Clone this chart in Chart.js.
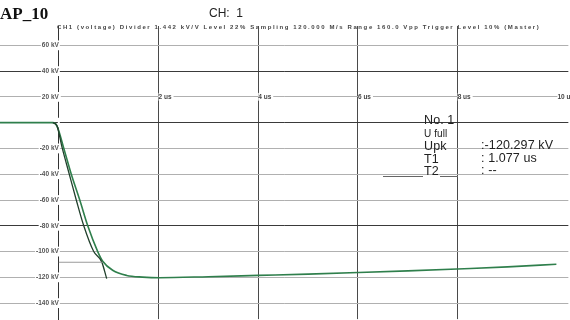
<!DOCTYPE html>
<html>
<head>
<meta charset="utf-8">
<script src="https://cdn.jsdelivr.net/npm/chart.js@4.4.1/dist/chart.umd.min.js"></script>
<style>
    body { margin: 0; background: #fff; }
    #wrap { position: relative; width: 570px; height: 320px; overflow: hidden; }
    #scope { position: absolute; left: 0; top: 0; }
    .txt { position: absolute; white-space: nowrap; font-family: "Liberation Sans", Arial, sans-serif; color: #222; }
    #tag { left: 0; top: 4px; font-family: "Liberation Serif", serif; font-weight: bold; font-size: 17px; color: #111; }
    #ch { left: 209px; top: 6px; font-size: 12px; }
    #hdr { left: 57px; top: 24px; font-size: 6px; font-weight: bold; color: #444; letter-spacing: 1.6px; }
    .res { font-size: 12.5px; letter-spacing: 0.1px; line-height: 12.5px; }
    .rule { position: absolute; height: 0; border-top: 1px solid #666; }
</style>
</head>
<body>
<div id="wrap">
    <!-- canvas a bit taller than the frame: the offset x axis keeps ~12px at the bottom -->
    <canvas id="scope" width="570" height="332"></canvas>
    <div class="txt" id="tag">AP_10</div>
    <div class="txt" id="ch">CH:&nbsp; 1</div>
    <div class="txt" id="hdr">CH1 (voltage) Divider 1.442 kV/V Level 22% Sampling 120.000 M/s Range 160.0 Vpp Trigger Level 10% (Master)</div>
    <div class="txt res" style="left:424px; top:114px;">No. 1<br><span style="font-size:10px">U full</span><br>Upk<br>T1<br>T2</div>
    <div class="txt res" style="left:481px; top:139px;">:-120.297 kV<br>: 1.077 us<br>: --</div>
    <div class="rule" style="left:383px; top:176px; width:40px;"></div>
    <div class="rule" style="left:440px; top:176px; width:18px;"></div>
</div>
<script>
// measured waveform (time in us, voltage in kV)
const waveTime = [-1.18, -0.12, -0.04, 0.1, 0.25, 0.42, 0.58, 0.78, 0.88, 1.08, 1.36, 1.68, 2.02, 3, 4, 5, 6, 7, 8, 9, 9.98];
const waveKV = [0, 0, -2.3, -20, -40, -60, -80, -100, -107.5, -114.5, -118.5, -119.8, -120.3, -119.5, -118.5, -117.5, -116.3, -115, -113.5, -111.9, -109.8];

// front evaluation curve
const fitTime = [-0.12, -0.04, 0.07, 0.21, 0.35, 0.5, 0.7, 0.86, 0.96];
const fitKV = [0, -2.3, -20, -40, -60, -80, -100, -108, -121];

// 90% level marker
const levelTime = [0, 0.88];
const levelKV = [-108.3, -108.3];

const darkGridKV = [40, 0, -80];
const timeTicks = [2, 4, 6, 8, 10];

function toPoints(xs, ys) {
    return xs.map((x, i) => ({ x: x, y: ys[i] }));
}

const ctx = document.getElementById('scope').getContext('2d');

const scopeChart = new Chart(ctx, {
    type: 'scatter',
    data: {
        datasets: [{
            label: 'level',
            data: toPoints(levelTime, levelKV),
            showLine: true,
            borderColor: '#9a9a9a',
            borderWidth: 1,
            pointRadius: 0
        }, {
            label: 'fit',
            data: toPoints(fitTime, fitKV),
            showLine: true,
            borderColor: '#21402c',
            borderWidth: 1.3,
            pointRadius: 0,
            cubicInterpolationMode: 'monotone'
        }, {
            label: 'CH1',
            data: toPoints(waveTime, waveKV),
            showLine: true,
            borderColor: '#2f7f4c',
            borderWidth: 1.6,
            pointRadius: 0,
            cubicInterpolationMode: 'monotone'
        }]
    },
    options: {
        responsive: false,
        animation: false,
        layout: { padding: { top: 26, left: 0, right: 0, bottom: 2 } },
        plugins: {
            legend: { display: false },
            tooltip: { enabled: false }
        },
        scales: {
            x: {
                type: 'linear',
                position: { y: 20 },
                min: -1.18,
                max: 10.22,
                border: { display: false },
                grid: {
                    drawTicks: false,
                    color: function(c) {
                        if (c.tick.value === 10) return 'rgba(0,0,0,0)';
                        return '#4a4a4a';
                    }
                },
                ticks: {
                    stepSize: 2,
                    includeBounds: false,
                    autoSkip: false,
                    maxRotation: 0,
                    align: 'start',
                    padding: -4,
                    z: 1,
                    color: '#444',
                    font: { family: 'Liberation Sans', size: 6.5, weight: 'bold' },
                    showLabelBackdrop: true,
                    backdropColor: '#fff',
                    backdropPadding: { left: 0, right: 2, top: 0, bottom: 0 },
                    callback: function(v) {
                        return timeTicks.includes(v) ? v + ' us' : '';
                    }
                }
            },
            y: {
                type: 'linear',
                position: { x: 0 },
                min: -152.4,
                max: 75,
                border: { display: true, color: '#333', width: 1 },
                grid: {
                    drawTicks: false,
                    color: function(c) {
                        return darkGridKV.includes(c.tick.value) ? '#3a3a3a' : '#b0b0b0';
                    }
                },
                ticks: {
                    stepSize: 20,
                    includeBounds: false,
                    padding: 9,
                    color: '#555',
                    font: { family: 'Liberation Sans', size: 6.5, weight: 'bold' },
                    showLabelBackdrop: true,
                    backdropColor: '#fff',
                    backdropPadding: 1,
                    callback: function(v) {
                        return v === 0 ? '' : v + ' kV';
                    }
                }
            }
        }
    }
});
</script>
</body>
</html>
